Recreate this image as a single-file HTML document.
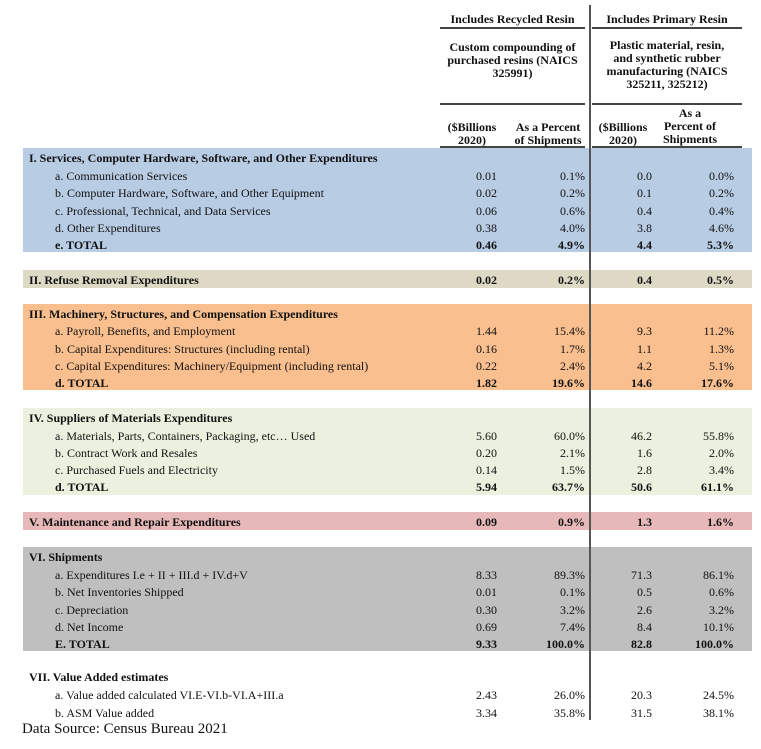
<!DOCTYPE html>
<html><head><style>
body{margin:0;width:761px;height:749px;background:#fff;position:relative;overflow:hidden;font-family:"Liberation Serif",serif;font-size:12px;color:#111}
.a{position:absolute;white-space:nowrap;line-height:14px}
.bg{position:absolute;left:23px;width:729px}
.b{font-weight:bold}
.h{position:absolute;text-align:center;font-weight:bold;line-height:13px;font-size:12px;white-space:nowrap}
.hl{position:absolute;height:2px;background:#444}
.r{position:absolute;text-align:right;white-space:nowrap;line-height:14px}
</style></head><body>
<div class="bg" style="top:148px;height:104px;background:#b8cce4"></div>
<div class="bg" style="top:270px;height:18px;background:#ddd9c4"></div>
<div class="bg" style="top:304px;height:86px;background:#f9bf8f"></div>
<div class="bg" style="top:408px;height:87px;background:#ebf1de"></div>
<div class="bg" style="top:512px;height:18px;background:#e6b9b8"></div>
<div class="bg" style="top:547px;height:104px;background:#bfbfbf"></div>
<div style="position:absolute;left:589px;top:5px;width:2px;height:715px;background:#555"></div>
<div class="hl" style="left:440px;width:145px;top:27px"></div>
<div class="hl" style="left:592px;width:150px;top:27px"></div>
<div class="hl" style="left:440px;width:145px;top:103px"></div>
<div class="hl" style="left:592px;width:150px;top:103px"></div>
<div class="hl" style="left:440px;width:145px;top:146px"></div>
<div class="hl" style="left:592px;width:150px;top:146px"></div>
<div class="h" style="left:440px;width:145px;top:13px">Includes Recycled Resin</div>
<div class="h" style="left:592px;width:150px;top:13px">Includes Primary Resin</div>
<div class="h" style="left:440px;width:145px;top:41px">Custom compounding of<br>purchased resins (NAICS<br>325991)</div>
<div class="h" style="left:592px;width:150px;top:39px">Plastic material, resin,<br>and synthetic rubber<br>manufacturing (NAICS<br>325211, 325212)</div>
<div class="h" style="left:440px;width:64px;top:121px">($Billions<br>2020)</div>
<div class="h" style="left:506px;width:84px;top:121px">As a Percent<br>of Shipments</div>
<div class="h" style="left:592px;width:62px;top:121px">($Billions<br>2020)</div>
<div class="h" style="left:660px;width:60px;top:107px">As a<br>Percent of<br>Shipments</div>
<div id="rows"></div>
<div class="a" style="left:22px;top:721px;font-size:15px;line-height:17px">Data Source: Census Bureau 2021</div>
<script>
const R=[
[158,29,1,"I. Services, Computer Hardware, Software, and Other Expenditures"],
[176,55,0,"a. Communication Services","0.01","0.1%","0.0","0.0%"],
[193,55,0,"b. Computer Hardware, Software, and Other Equipment","0.02","0.2%","0.1","0.2%"],
[211,55,0,"c. Professional, Technical, and Data Services","0.06","0.6%","0.4","0.4%"],
[228,55,0,"d. Other Expenditures","0.38","4.0%","3.8","4.6%"],
[245,55,1,"e. TOTAL","0.46","4.9%","4.4","5.3%"],
[280,29,1,"II. Refuse Removal Expenditures","0.02","0.2%","0.4","0.5%"],
[314,29,1,"III. Machinery, Structures, and Compensation Expenditures"],
[331,55,0,"a. Payroll, Benefits, and Employment","1.44","15.4%","9.3","11.2%"],
[349,55,0,"b. Capital Expenditures: Structures (including rental)","0.16","1.7%","1.1","1.3%"],
[366,55,0,"c. Capital Expenditures: Machinery/Equipment (including rental)","0.22","2.4%","4.2","5.1%"],
[383,55,1,"d. TOTAL","1.82","19.6%","14.6","17.6%"],
[418,29,1,"IV. Suppliers of Materials Expenditures"],
[436,55,0,"a. Materials, Parts, Containers, Packaging, etc… Used","5.60","60.0%","46.2","55.8%"],
[453,55,0,"b. Contract Work and Resales","0.20","2.1%","1.6","2.0%"],
[470,55,0,"c. Purchased Fuels and Electricity","0.14","1.5%","2.8","3.4%"],
[487,55,1,"d. TOTAL","5.94","63.7%","50.6","61.1%"],
[522,29,1,"V. Maintenance and Repair Expenditures","0.09","0.9%","1.3","1.6%"],
[557,29,1,"VI. Shipments"],
[575,55,0,"a. Expenditures I.e + II + III.d + IV.d+V","8.33","89.3%","71.3","86.1%"],
[592,55,0,"b. Net Inventories Shipped","0.01","0.1%","0.5","0.6%"],
[610,55,0,"c. Depreciation","0.30","3.2%","2.6","3.2%"],
[627,55,0,"d. Net Income","0.69","7.4%","8.4","10.1%"],
[644,55,1,"E. TOTAL","9.33","100.0%","82.8","100.0%"],
[677,29,1,"VII. Value Added estimates"],
[695,55,0,"a. Value added calculated VI.E-VI.b-VI.A+III.a","2.43","26.0%","20.3","24.5%"],
[713,55,0,"b. ASM Value added","3.34","35.8%","31.5","38.1%"]];
const rights=[497,585,652,734];let h="";
for(const r of R){const t=r[0]-7,c=r[2]?" b":"";
h+=`<div class="a${c}" style="left:${r[1]}px;top:${t}px">${r[3]}</div>`;
for(let i=0;i<4;i++)if(r[4+i])h+=`<div class="r${c}" style="right:${761-rights[i]}px;top:${t}px">${r[4+i]}</div>`;}
document.getElementById("rows").innerHTML=h;
</script>
</body></html>
